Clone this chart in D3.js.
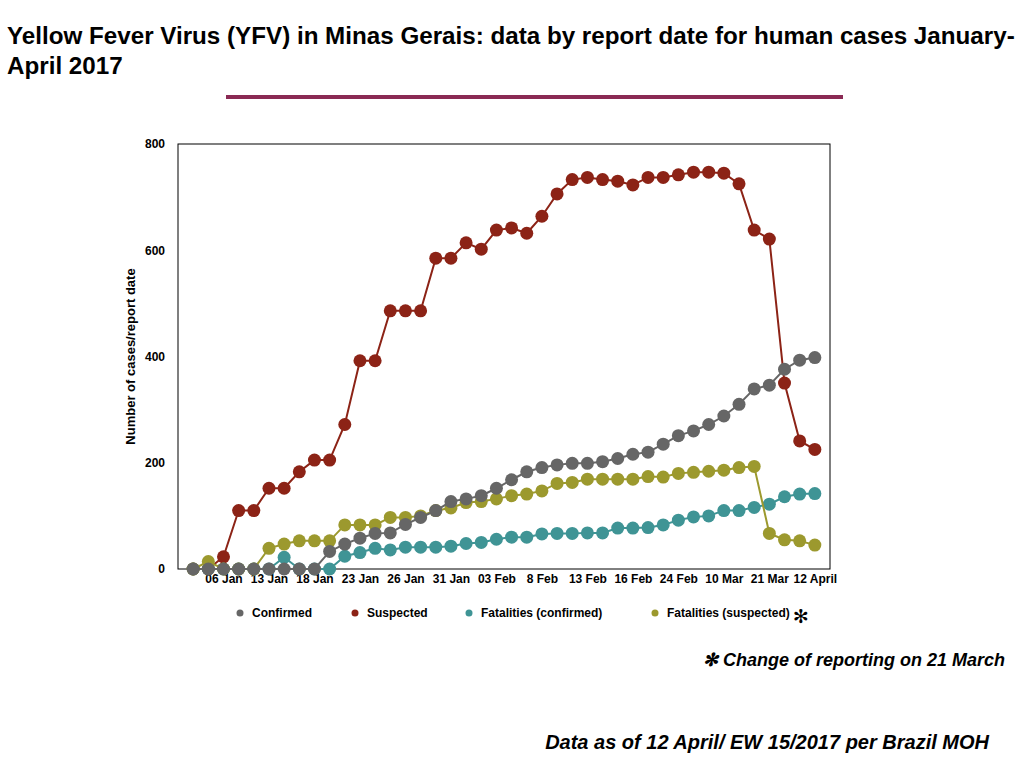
<!DOCTYPE html>
<html lang="en">
<head>
    <meta charset="UTF-8">
    <title>Yellow Fever Virus in Minas Gerais</title>
    <script src="https://d3js.org/d3.v7.min.js"></script>
    <style>
        body { margin: 0; background: #fff; }
        svg { display: block; }
        .title { font-family: "Liberation Sans", Arial, sans-serif; font-weight: bold; font-size: 24.2px; }
        .tick-label { font-family: "Liberation Sans", Arial, sans-serif; font-weight: bold; font-size: 12px; }
        .legend-label { font-family: "Liberation Sans", Arial, sans-serif; font-weight: bold; font-size: 12px; }
        .axis-title { font-family: "Liberation Sans", Arial, sans-serif; font-weight: bold; font-size: 13px; }
        .note { font-family: "Liberation Sans", Arial, sans-serif; font-weight: bold; font-style: italic; }
    </style>
</head>
<body>
<div id="chart"></div>
<script>
    // ---- data ----
    const tickLabels = ["06 Jan", "13 Jan", "18 Jan", "23 Jan", "26 Jan", "31 Jan", "03 Feb",
        "8 Feb", "13 Feb", "16 Feb", "24 Feb", "10 Mar", "21 Mar", "12 April"];
    const firstTick = 2, tickStep = 3;   // a label on every third report

    const confirmed = [0, 0, 0, 0, 0, 0, 0, 0, 0, 33, 47, 58, 67, 68, 84, 97, 110, 127, 132, 138, 152,
        168, 183, 191, 196, 199, 199, 202, 208, 216, 220, 235, 251, 260, 272, 288, 310, 339, 346, 376, 393, 398];
    const suspected = [0, 0, 23, 110, 110, 152, 152, 183, 205, 205, 272, 392, 392, 486, 486, 486, 585, 585, 614, 602, 638,
        642, 632, 664, 706, 733, 737, 733, 730, 723, 737, 737, 742, 747, 747, 745, 725, 638, 621, 350, 241, 225];
    const fatalConfirmed = [0, 0, 0, 0, 0, 0, 22, 0, 0, 0, 24, 31, 39, 36, 41, 41, 41, 43, 48, 50, 56,
        60, 60, 66, 67, 67, 68, 68, 77, 77, 78, 83, 92, 98, 100, 110, 110, 116, 122, 136, 141, 142];
    const fatalSuspected = [0, 14, 0, 0, 0, 39, 47, 53, 53, 53, 83, 83, 83, 97, 97, 100, 110, 115, 125, 127, 132,
        138, 141, 147, 161, 163, 169, 169, 169, 169, 174, 173, 180, 182, 184, 186, 191, 193, 67, 55, 53, 45];

    const seriesNames = ["Confirmed", "Suspected", "Fatalities (confirmed)", "Fatalities (suspected)"];
    const seriesColors = ["#666666", "#8c2316", "#3f9495", "#9c992e"];
    const seriesValues = [confirmed, suspected, fatalConfirmed, fatalSuspected];
    const drawOrder = [1, 2, 3, 0];   // grey sits on top, as on the slide

    const yTicks = [0, 200, 400, 600, 800];

    // ---- layout ----
    const width = 1024, height = 768;
    const plot = { left: 178, top: 144, right: 830, bottom: 569 };

    const svg = d3.select("#chart").append("svg")
        .attr("width", width)
        .attr("height", height);

    // title + rule
    svg.append("text").attr("class", "title").attr("x", 7).attr("y", 44)
        .text("Yellow Fever Virus (YFV) in Minas Gerais: data by report date for human cases January-");
    svg.append("text").attr("class", "title").attr("x", 7).attr("y", 74)
        .text("April 2017");
    svg.append("line")
        .attr("x1", 226).attr("x2", 843).attr("y1", 97).attr("y2", 97)
        .attr("stroke", "#8a2a54").attr("stroke-width", 4);

    const x = d3.scalePoint()
        .domain(d3.range(confirmed.length))
        .range([plot.left, plot.right])
        .padding(1);

    const y = d3.scaleLinear()
        .domain([0, 800])
        .range([plot.bottom, plot.top]);

    // frame
    svg.append("rect")
        .attr("x", plot.left).attr("y", plot.top)
        .attr("width", plot.right - plot.left).attr("height", plot.bottom - plot.top)
        .attr("fill", "none").attr("stroke", "#000").attr("stroke-width", 1);

    // y axis labels
    const yAxis = svg.append("g")
        .attr("transform", `translate(${plot.left},0)`)
        .call(d3.axisLeft(y).tickValues(yTicks).tickSize(0).tickPadding(13));
    yAxis.select(".domain").remove();
    yAxis.selectAll("text").attr("class", "tick-label").attr("fill", "#000").attr("font-family", null).attr("font-size", null);

    svg.append("text").attr("class", "axis-title")
        .attr("transform", `translate(135,${(plot.top + plot.bottom) / 2}) rotate(-90)`)
        .attr("text-anchor", "middle")
        .text("Number of cases/report date");

    // x axis labels
    const xAxis = svg.append("g")
        .attr("transform", `translate(0,${plot.bottom})`)
        .call(d3.axisBottom(x)
            .tickValues(tickLabels.map((d, i) => firstTick + i * tickStep))
            .tickFormat((d) => tickLabels[(d - firstTick) / tickStep])
            .tickSize(0).tickPadding(5));
    xAxis.select(".domain").remove();
    xAxis.selectAll("text").attr("class", "tick-label").attr("fill", "#000").attr("font-family", null).attr("font-size", null);

    // series
    const line = d3.line()
        .x((d, i) => x(i))
        .y((d) => y(d));

    drawOrder.forEach((s) => {
        const g = svg.append("g");
        g.append("path")
            .datum(seriesValues[s])
            .attr("d", line)
            .attr("fill", "none")
            .attr("stroke", seriesColors[s])
            .attr("stroke-width", 2);
        g.selectAll("circle")
            .data(seriesValues[s])
            .enter().append("circle")
            .attr("cx", (d, i) => x(i))
            .attr("cy", (d) => y(d))
            .attr("r", 6.5)
            .attr("fill", seriesColors[s]);
    });

    // legend
    const legendX = [240, 355, 469, 655];
    const legend = svg.append("g").selectAll("g")
        .data(seriesNames)
        .enter().append("g")
        .attr("transform", (d, i) => `translate(${legendX[i]},613)`);
    legend.append("circle").attr("r", 3.5).attr("fill", (d, i) => seriesColors[i]);
    legend.append("text").attr("class", "legend-label")
        .attr("x", 12).attr("dy", "0.35em")
        .text((d) => d);

    svg.append("text")
        .attr("x", 801).attr("y", 623)
        .attr("text-anchor", "middle")
        .attr("font-family", "DejaVu Sans")
        .attr("font-size", 19)
        .text("✻");

    // notes
    svg.append("text").attr("class", "note")
        .attr("x", 1005).attr("y", 666)
        .attr("text-anchor", "end")
        .attr("font-size", 18)
        .text("✻ Change of reporting on 21 March");

    svg.append("text").attr("class", "note")
        .attr("x", 989).attr("y", 749)
        .attr("text-anchor", "end")
        .attr("font-size", 20)
        .text("Data as of 12 April/ EW 15/2017 per Brazil MOH");
</script>
</body>
</html>
